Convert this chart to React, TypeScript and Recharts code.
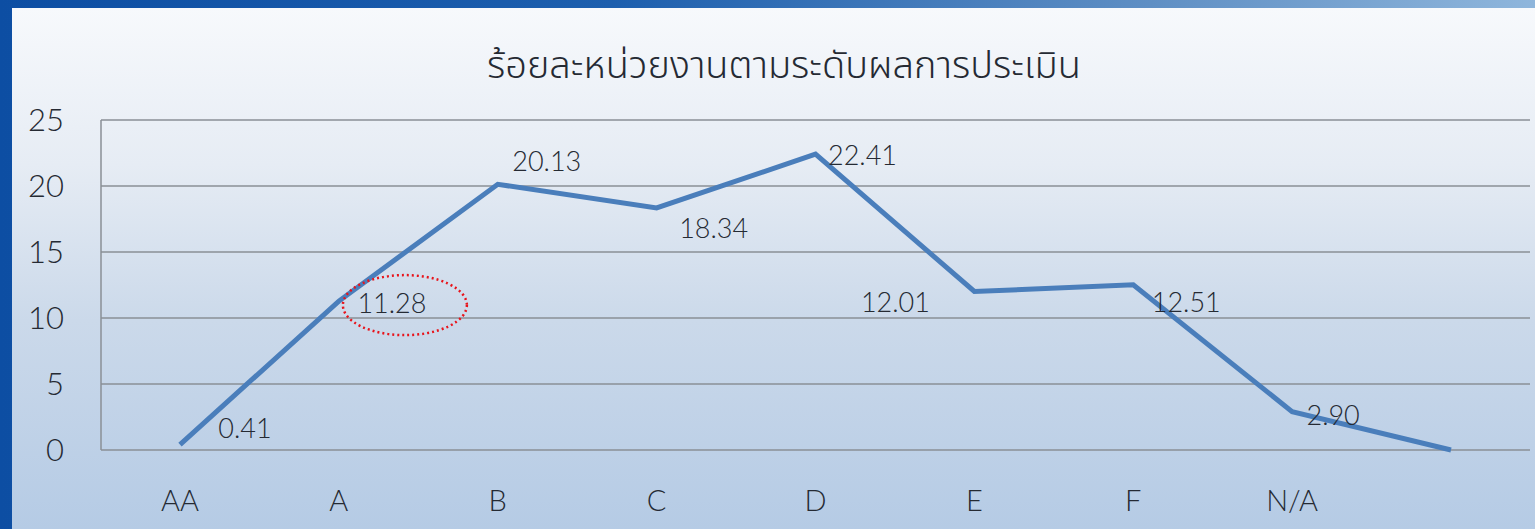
import { LineChart, Line, XAxis, YAxis, CartesianGrid, LabelList } from "recharts"

const categories = ["AA", "A", "B", "C", "D", "E", "F", "N/A", ""]
const percentages = [0.41, 11.28, 20.13, 18.34, 22.41, 12.01, 12.51, 2.9, 0]
const valueLabels = ["0.41", "11.28", "20.13", "18.34", "22.41", "12.01", "12.51", "2.90", ""]
const yTicks = [0, 5, 10, 15, 20, 25]

// where each value label sits relative to its point (as in the slide)
const labelOffsets: [number, number][] = [
  [65, -17], [53, 1], [49, -24], [57, 20], [47, 0], [-79, 10], [53, 17], [41, 3], [0, 0],
]

const data = categories.map((name, i) => ({ name, value: percentages[i], label: valueLabels[i] }))

const THAI_FONT = "'Noto Sans Thai', 'Noto Sans', 'DejaVu Sans', sans-serif"
const NUM_FONT = "Lato, 'Noto Sans', sans-serif"

const renderValueLabel = (props: any) => {
  const { x, y, index, value } = props
  if (!value) return null
  const [dx, dy] = labelOffsets[index]
  return (
    <g>
      <text
        x={x + dx}
        y={y + dy}
        textAnchor="middle"
        dominantBaseline="central"
        fontSize={27}
        fontWeight={300}
        fontFamily={NUM_FONT}
        fill="#252a33"
      >
        {value}
      </text>
      {/* red dotted highlight around A */}
      {index === 1 && (
        <ellipse
          cx={x + 66}
          cy={y + 4}
          rx={62}
          ry={30}
          fill="none"
          stroke="#e8141b"
          strokeWidth={2.5}
          strokeDasharray="2 3"
        />
      )}
    </g>
  )
}

export default function App() {
  return (
    <div
      style={{
        position: "fixed",
        left: 0,
        top: 0,
        width: 1535,
        height: 529,
        overflow: "hidden",
        background: "linear-gradient(90deg, #0d4ea3 0%, #1d5fae 40%, #5f8fc4 75%, #8fb6dc 100%)",
      }}
    >
      <div
        style={{
          position: "absolute",
          left: 12,
          top: 8,
          right: 0,
          bottom: 0,
          background: "linear-gradient(180deg, #f7f9fc 0%, #e6ecf4 30%, #cbd9ea 60%, #b5cbe5 100%)",
        }}
      />
      <div
        style={{
          position: "absolute",
          left: 784,
          top: 42,
          transform: "translateX(-50%)",
          whiteSpace: "nowrap",
          fontFamily: THAI_FONT,
          fontWeight: 300,
          fontSize: 38,
          lineHeight: "50px",
          color: "#252a33",
        }}
      >
        ร้อยละหน่วยงานตามระดับผลการประเมิน
      </div>
      <div style={{ position: "absolute", left: 0, top: 0 }}>
        <LineChart width={1535} height={529} data={data} margin={{ top: 120, right: 5, bottom: 49, left: 0 }}>
          <CartesianGrid vertical={false} stroke="#8a8f96" strokeWidth={1.5} />
          <XAxis
            dataKey="name"
            axisLine={false}
            tickLine={false}
            tickSize={0}
            tickMargin={40}
            interval={0}
            padding={{ left: 79, right: 79 }}
            tick={{ fontSize: 29, fontWeight: 300, fontFamily: NUM_FONT, fill: "#252a33" }}
          />
          <YAxis
            domain={[0, 25]}
            ticks={yTicks}
            width={101}
            axisLine={{ stroke: "#8a8f96", strokeWidth: 1.5 }}
            tickLine={false}
            tickSize={0}
            tickMargin={37}
            tick={{ fontSize: 31, fontWeight: 300, fontFamily: NUM_FONT, fill: "#252a33" }}
          />
          <Line
            type="linear"
            dataKey="value"
            stroke="#4a7ebb"
            strokeWidth={5}
            dot={false}
            activeDot={false}
            isAnimationActive={false}
          >
            <LabelList dataKey="label" content={renderValueLabel} />
          </Line>
        </LineChart>
      </div>
    </div>
  )
}
